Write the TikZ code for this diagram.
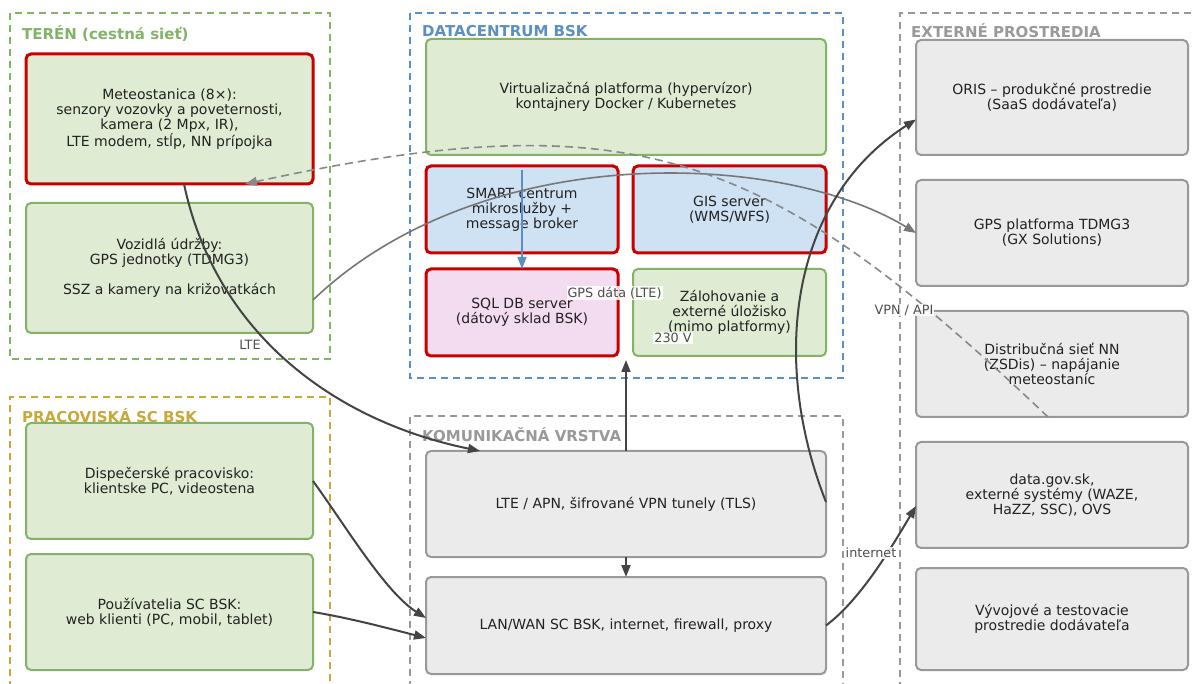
\documentclass[tikz,border=0pt]{standalone}
\usepackage{fontspec}
\setmainfont{DejaVu Sans}
\usetikzlibrary{arrows.meta}
\definecolor{gfill}{HTML}{DFEBD3}
\definecolor{gline}{HTML}{82B366}
\definecolor{rline}{HTML}{C80000}
\definecolor{bfill}{HTML}{CFE2F3}
\definecolor{pfill}{HTML}{F3DCF0}
\definecolor{xfill}{HTML}{EBEBEB}
\definecolor{xline}{HTML}{999999}
\definecolor{dcblue}{HTML}{5B8FC3}
\definecolor{gold}{HTML}{C9A83A}
\definecolor{txt}{HTML}{222222}
\definecolor{dark}{HTML}{444444}
\definecolor{mid}{HTML}{777777}
\definecolor{dash}{HTML}{888888}
\tikzset{
  box/.style={rounded corners=5pt, align=center, text=txt, font=\fontsize{14}{15.2}\selectfont, inner sep=0pt, outer sep=0pt},
  gbox/.style={box, fill=gfill, draw=gline, line width=2pt},
  rgbox/.style={box, fill=gfill, draw=rline, line width=3pt},
  rbbox/.style={box, fill=bfill, draw=rline, line width=3pt},
  rpbox/.style={box, fill=pfill, draw=rline, line width=3pt},
  xbox/.style={box, fill=xfill, draw=xline, line width=2pt},
  grp/.style={dashed, dash pattern=on 7pt off 5pt, line width=1.6pt},
  gtitle/.style={anchor=west, font=\fontsize{15}{17}\selectfont\bfseries, inner sep=0pt},
  lbl/.style={font=\fontsize{12.8}{14}\selectfont, text=txt!80, inner sep=1pt},
  wlbl/.style={lbl, fill=white, fill opacity=0.85, text opacity=1},
  conn/.style={draw=dark, line width=2pt, -{Triangle[length=12pt,width=9pt]}},
  lconn/.style={draw=mid, line width=1.6pt, -{Triangle[length=12pt,width=9pt]}},
  dconn/.style={draw=dash, line width=1.6pt, dashed, dash pattern=on 8pt off 5pt, -{Triangle[length=12pt,width=9pt]}},
  bconn/.style={draw=dcblue, line width=1.6pt, -{Triangle[length=12pt,width=9pt]}},
}
\begin{document}
\begin{tikzpicture}[x=1pt,y=-1pt]
\useasboundingbox[fill=white] (0,0) rectangle (1195,684);
% groups
\draw[grp, gline] (10,13) rectangle (330,359);
\node[gtitle, text=gline] (tteren) at (22,34) {TERÉN (cestná sieť)};
\draw[grp, dcblue] (410,13) rectangle (843,378);
\node[gtitle, text=dcblue] (tdc) at (422,31) {DATACENTRUM BSK};
\draw[grp, xline] (1215,13) -- (900,13) -- (900,700);
\node[gtitle, text=xline] (text) at (911,31) {EXTERNÉ PROSTREDIA};
\draw[grp, gold] (10,700) -- (10,397) -- (330,397) -- (330,700);
\node[gtitle, text=gold] (tprac) at (22,416) {PRACOVISKÁ SC BSK};
\draw[grp, xline] (410,700) -- (410,416) -- (843,416) -- (843,700);
\node[gtitle, text=xline] (tkom) at (422,435) {KOMUNIKAČNÁ VRSTVA};
% nodes
\node[rgbox, minimum width=287pt, minimum height=130pt] (meteo) at (169.5,119) {Meteostanica (8×):\\senzory vozovky a poveternosti,\\kamera (2 Mpx, IR),\\LTE modem, stĺp, NN prípojka};
\path (169.5,118) coordinate (meteoc);
\node[gbox, minimum width=287pt, minimum height=130pt] (voz) at (169.5,268) {Vozidlá údržby:\\GPS jednotky (TDMG3)\\[15.2pt]SSZ a kamery na križovatkách};
\node[gbox, minimum width=400pt, minimum height=116pt] (virt) at (626,97) {Virtualizačná platforma (hypervízor)\\kontajnery Docker / Kubernetes};
\node[rbbox, minimum width=192pt, minimum height=87pt] (smart) at (522,209.5) {SMART centrum\\mikroslužby +\\message broker};
\node[rbbox, minimum width=193pt, minimum height=87pt] (gis) at (729.5,209.5) {GIS server\\(WMS/WFS)};
\node[rpbox, minimum width=192pt, minimum height=87pt] (sql) at (522,312.5) {SQL DB server\\(dátový sklad BSK)};
\node[gbox, minimum width=193pt, minimum height=87pt] (zal) at (729.5,312.5) {Zálohovanie a\\externé úložisko\\(mimo platformy)};
\node[gbox, minimum width=287pt, minimum height=116pt] (disp) at (169.5,481) {Dispečerské pracovisko:\\klientske PC, videostena};
\node[gbox, minimum width=287pt, minimum height=116pt] (pouz) at (169.5,612) {Používatelia SC BSK:\\web klienti (PC, mobil, tablet)};
\node[xbox, minimum width=400pt, minimum height=106pt] (lte) at (626,504) {LTE / APN, šifrované VPN tunely (TLS)};
\node[xbox, minimum width=400pt, minimum height=97pt] (lan) at (626,625.5) {LAN/WAN SC BSK, internet, firewall, proxy};
\node[xbox, minimum width=272pt, minimum height=115pt] (oris) at (1052,97.5) {ORIS – produkčné prostredie\\(SaaS dodávateľa)};
\node[xbox, minimum width=272pt, minimum height=106pt] (gpsp) at (1052,233) {GPS platforma TDMG3\\(GX Solutions)};
\node[xbox, minimum width=272pt, minimum height=106pt] (dist) at (1052,364) {Distribučná sieť NN\\(ZSDis) – napájanie\\meteostaníc};
\node[xbox, minimum width=272pt, minimum height=106pt] (data) at (1052,495) {data.gov.sk,\\externé systémy (WAZE,\\HaZZ, SSC), OVS};
\node[xbox, minimum width=272pt, minimum height=102pt] (vyv) at (1052,619) {Vývojové a testovacie\\prostredie dodávateľa};
\coordinate (dcin) at (626,360);
% connectors
\draw[bconn] ([yshift=-4pt]smart.north) -- (sql.north);
\draw[conn] ([xshift=14.5pt]meteo.south) .. controls (215,330) and (330,420) .. ([xshift=-146pt]lte.north);
\draw[lconn] ([yshift=-32pt]voz.east) .. controls (480,140) and (780,150) .. (gpsp.west);
\draw[dconn] ([xshift=-4pt]dist.south) .. controls (768,151) and (637,99) .. ([xshift=75.5pt]meteo.south);
\draw[conn] (lte.north) -- (dcin);
\draw[conn] (lte.south) -- (lan.north);
\draw[conn] ([yshift=2pt]lte.east) .. controls (770,360) and (790,200) .. ([yshift=-22pt]oris.west);
\draw[conn] (lan.east) .. controls (860,600) and (890,550) .. ([yshift=-11pt]data.west);
\draw[conn] (disp.east) .. controls (345,525) and (385,592) .. ([yshift=7.5pt]lan.west);
\draw[conn] (pouz.east) .. controls (350,618) and (395,630) .. ([yshift=-12.5pt]lan.west);
% labels
\node[lbl] (llte) at (250,345) {LTE};
\node[wlbl] (lgps) at (614.5,293) {GPS dáta (LTE)};
\node[wlbl] (l230) at (673,338) {230 V};
\node[wlbl] (lvpn) at (904,310) {VPN / API};
\node[wlbl] (linet) at (871,553) {internet};
\end{tikzpicture}
\end{document}
